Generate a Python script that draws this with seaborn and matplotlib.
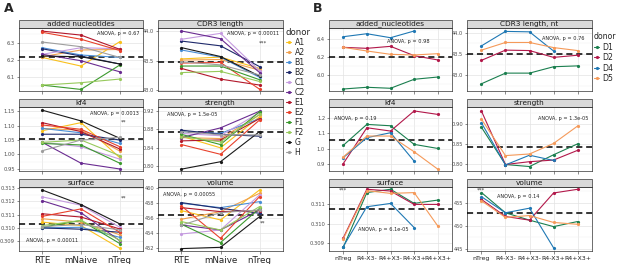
import numpy as np
import pandas as pd
import matplotlib
matplotlib.use("Agg")
import matplotlib.pyplot as plt
import seaborn as sns
from matplotlib.patches import Rectangle
from matplotlib.lines import Line2D
from matplotlib.ticker import AutoMinorLocator

# ---------------- Panel A data ----------------
cells_A = ["RTE", "mNaive", "nTreg"]
donors_A = ["A1", "A2", "B1", "B2", "C1", "C2", "E1", "E2", "F1", "F2", "G", "H"]
colors_A = ["#F9C01C", "#F0A04E", "#4A8FD6", "#1F2A6B", "#C59BE0", "#6A2C91",
            "#B2182B", "#E8412C", "#3C9A2E", "#97C95C", "#1A1A1A", "#9E9E9E"]

A_added = {"A1": [6.215, 6.165, 6.306], "A2": [6.219, 6.258, 6.261], "B1": [6.271, 6.229, 6.215],
           "B2": [6.265, 6.223, 6.177], "C1": [6.233, 6.271, 6.265], "C2": [6.233, 6.196, 6.132],
           "E1": [6.367, 6.344, 6.262], "E2": [6.360, 6.320, 6.255], "F1": [6.055, 6.030, 6.171],
           "F2": [6.055, 6.069, 6.090], "G": [6.223, 6.219, 6.177], "H": [6.304, 6.277, 6.215]}
A_cdr3 = {"A1": [43.53, 43.56, 43.37], "A2": [43.51, 43.52, 43.34], "B1": [43.68, 43.56, 43.22],
          "B2": [43.83, 43.75, 43.40], "C1": [43.86, 43.96, 43.33], "C2": [44.00, 43.87, 43.30],
          "E1": [43.37, 43.19, 43.09], "E2": [43.46, 43.47, 43.02], "F1": [43.41, 43.41, 43.18],
          "F2": [43.30, 43.32, 43.15], "G": [43.72, 43.57, 43.24], "H": [43.48, 43.43, 43.26]}
A_kf4 = {"A1": [1.082, 1.110, 0.989], "A2": [1.090, 1.084, 1.012], "B1": [1.090, 1.075, 1.038],
         "B2": [1.070, 1.070, 1.050], "C1": [1.042, 1.027, 0.984], "C2": [1.042, 0.970, 0.950],
         "E1": [1.110, 1.079, 1.019], "E2": [1.102, 1.087, 1.027], "F1": [1.038, 1.033, 0.970],
         "F2": [1.042, 1.050, 0.996], "G": [1.153, 1.116, 1.056], "H": [1.013, 1.050, 1.059]}
A_strength = {"A1": [0.865, 0.840, 0.907], "A2": [0.862, 0.860, 0.911], "B1": [0.875, 0.871, 0.903],
              "B2": [0.878, 0.869, 0.865], "C1": [0.871, 0.866, 0.916], "C2": [0.862, 0.883, 0.919],
              "E1": [0.855, 0.857, 0.903], "E2": [0.847, 0.826, 0.900], "F1": [0.869, 0.847, 0.918],
              "F2": [0.864, 0.853, 0.912], "G": [0.794, 0.810, 0.875], "H": [0.875, 0.868, 0.868]}
A_surface = {"A1": [0.31042, 0.31016, 0.30843], "A2": [0.31068, 0.31042, 0.30946],
             "B1": [0.30998, 0.31003, 0.30926], "B2": [0.30998, 0.30988, 0.30965],
             "C1": [0.31235, 0.31171, 0.31003], "C2": [0.31205, 0.31114, 0.30900],
             "E1": [0.31106, 0.31081, 0.30990], "E2": [0.31086, 0.31143, 0.30965],
             "F1": [0.31003, 0.31055, 0.30879], "F2": [0.31016, 0.31055, 0.30905],
             "G": [0.31287, 0.31176, 0.31029], "H": [0.31008, 0.31024, 0.30983]}
A_volume = {"A1": [457.02, 455.78, 459.78], "A2": [455.87, 456.89, 459.33], "B1": [458.00, 457.42, 458.22],
            "B2": [458.09, 457.33, 456.67], "C1": [453.91, 454.44, 459.11], "C2": [455.11, 454.44, 457.11],
            "E1": [457.42, 456.89, 457.02], "E2": [457.64, 453.33, 458.89], "F1": [455.20, 452.76, 457.33],
            "F2": [455.56, 454.44, 457.56], "G": [451.96, 452.13, 456.22], "H": [455.07, 456.76, 457.11]}

titles_A = ["added nucleotides", "CDR3 length", "kf4", "strength", "surface", "volume"]
refs_A = [6.215, 43.47, 1.053, 0.874, 0.31029, 456.4]
ylims_A = [(6.021, 6.385), (42.99, 44.05), (0.943, 1.164), (0.790, 0.928), (0.30822, 0.3131), (451.64, 460.17)]
yticks_A = [[6.1, 6.2, 6.3], [43.0, 43.5, 44.0], [0.95, 1.00, 1.05, 1.10, 1.15], [0.80, 0.84, 0.88, 0.92],
            [0.309, 0.310, 0.311, 0.312, 0.313], [452, 454, 456, 458, 460]]
ytlab_A = [["6.1", "6.2", "6.3"], ["43.0", "43.5", "44.0"], ["0.95", "1.00", "1.05", "1.10", "1.15"],
           ["0.80", "0.84", "0.88", "0.92"], ["0.309", "0.310", "0.311", "0.312", "0.313"],
           ["452", "454", "456", "458", "460"]]
anova_A = ["ANOVA, p = 0.67", "ANOVA, p = 0.00011", "ANOVA, p = 0.0013", "ANOVA, p = 1.5e-05",
           "ANOVA, p = 0.00011", "ANOVA, p = 0.00055"]
stars_A = ["", "***", "**", "", "**", "**"]

# ---------------- Panel B data ----------------
cells_B = ["nTreg", "R4-X3-", "R4+X3-", "R4-X3+", "R4+X3+"]
donors_B = ["D1", "D2", "D4", "D5"]
colors_B = ["#1B7F4F", "#B2184A", "#1F78B4", "#F59A5A"]
nan = np.nan
B_added = {"D1": [5.849, 5.868, 5.857, 5.956, 5.981], "D2": [6.308, 6.297, 6.319, 6.216, 6.169],
           "D4": [6.425, 6.458, 6.414, 6.488, nan], "D5": [6.308, 6.268, 6.231, 6.224, 6.238]}
B_cdr3 = {"D1": [42.80, 43.05, 43.05, 43.20, 43.22], "D2": [43.35, 43.59, 43.58, 43.42, 43.47],
          "D4": [43.69, 44.03, 44.02, 43.57, nan], "D5": [43.59, 43.77, 43.77, 43.65, 43.58]}
B_kf4 = {"D1": [1.021, 1.160, 1.151, 1.028, 1.001], "D2": [0.900, 1.138, 1.116, 1.249, 1.226],
         "D4": [0.940, 1.072, 1.105, 0.917, nan], "D5": [0.944, 1.083, 1.083, 0.979, 0.864]}
B_strength = {"D1": [0.891, 0.799, 0.794, 0.823, 0.850], "D2": [0.931, 0.799, 0.806, 0.810, 0.834],
              "D4": [0.902, 0.798, 0.822, 0.809, nan], "D5": [0.911, 0.821, 0.825, 0.851, 0.894]}
B_surface = {"D1": [0.30879, 0.31158, 0.31175, 0.31103, 0.31120],
             "D2": [0.30927, 0.31175, 0.31166, 0.31098, 0.31098],
             "D4": [0.30883, 0.31086, 0.31103, 0.30980, nan],
             "D5": [0.30922, 0.31168, 0.31154, 0.31158, 0.30988]}
B_volume = {"D1": [457.2, 452.8, 451.2, 449.8, 450.9], "D2": [455.7, 452.0, 451.2, 457.1, 457.9],
            "D4": [456.3, 452.8, 453.8, 445.2, nan], "D5": [455.4, 451.8, 452.2, 450.7, 450.3]}

titles_B = ["added_nucleotides", "CDR3 length, nt", "kf4", "strength", "surface", "volume"]
refs_B = [6.205, 43.5, 1.054, 0.842, 0.31073, 452.8]
ylims_B = [(5.827, 6.521), (42.63, 44.11), (0.852, 1.275), (0.783, 0.941), (0.30861, 0.311865), (444.5, 458.4)]
yticks_B = [[6.0, 6.2, 6.4], [43.0, 43.5, 44.0], [0.9, 1.0, 1.1, 1.2], [0.80, 0.85, 0.90],
            [0.309, 0.310, 0.311], [445, 450, 455]]
ytlab_B = [["6.0", "6.2", "6.4"], ["43.0", "43.5", "44.0"], ["0.9", "1.0", "1.1", "1.2"],
           ["0.80", "0.85", "0.90"], ["0.309", "0.310", "0.311"], ["445", "450", "455"]]
anova_B = ["ANOVA, p = 0.98", "ANOVA, p = 0.76", "ANOVA, p = 0.19", "ANOVA, p = 1.3e-05",
           "ANOVA, p = 6.1e-05", "ANOVA, p = 0.14"]
stars_B = ["", "", "", "", "***", "***"]

# ---------------- figure ----------------
sns.set_style("white")
plt.rcParams["font.family"] = ["DejaVu Sans"]
W, H = 617, 264
fig = plt.figure(figsize=(W / 100, H / 100), dpi=100)

rows_px = [(28, 91), (107, 171), (187, 251)]
colsA_px = [(19, 143), (158, 283)]
colsB_px = [(329, 452), (467, 592)]
STRIP = 8


def make_ax(xr, yr):
    x0, x1 = xr
    y0, y1 = yr
    return fig.add_axes([x0 / W, 1 - y1 / H, (x1 - x0) / W, (y1 - y0) / H])


def long_df(d, donors, cells):
    recs = []
    for dn in donors:
        for c, v in zip(cells, d[dn]):
            if not np.isnan(v):
                recs.append((dn, c, v))
    df = pd.DataFrame(recs, columns=["donor", "cell", "value"])
    df["cell"] = pd.Categorical(df["cell"], categories=cells)
    return df


def style_ax(ax, title, ylim, yt, ytl, ref, ncat, cells, bottom, xfs):
    ax.set_xlim(-0.6, ncat - 1 + 0.6)
    ax.set_ylim(*ylim)
    ax.set_yticks(yt)
    ax.set_yticklabels(ytl)
    ax.set_xticks(range(ncat))
    if bottom:
        ax.set_xticklabels(cells, fontsize=xfs, color="#222222")
    else:
        ax.set_xticklabels([])
    ax.yaxis.set_minor_locator(AutoMinorLocator(2))
    ax.grid(True, which="major", color="#E3E3E3", lw=0.5)
    ax.grid(True, which="minor", axis="y", color="#F0F0F0", lw=0.35)
    ax.set_axisbelow(True)
    ax.tick_params(axis="y", which="major", labelsize=3.7, labelcolor="#4D4D4D",
                   length=1.8, width=0.4, color="#333333", pad=1.0, left=True)
    ax.tick_params(axis="x", which="major", length=1.8, width=0.4, color="#333333", pad=1.5, bottom=True)
    ax.tick_params(which="minor", length=0)
    for s in ax.spines.values():
        s.set_color("#333333")
        s.set_linewidth(0.5)
    ax.set_xlabel("")
    ax.set_ylabel("")
    ax.axhline(ref, color="black", ls=(0, (4, 2.5)), lw=1.1, zorder=5)
    h = ax.get_window_extent().height / (fig.dpi / 100)
    sh = STRIP / h
    ax.add_patch(Rectangle((0, 1), 1, sh, transform=ax.transAxes, clip_on=False,
                           facecolor="#D9D9D9", edgecolor="#333333", lw=0.5))
    ax.text(0.5, 1 + sh / 2, title, transform=ax.transAxes, ha="center", va="center",
            fontsize=5.3, color="#1A1A1A")


def draw_panel(datas, donors, colors, cells, cols_px, titles, refs, ylims, yticks, ytlabs,
               anovas, anova_pos, stars, star_pos, xfs):
    for i, d in enumerate(datas):
        r, c = divmod(i, 2)
        ax = make_ax(cols_px[c], rows_px[r])
        df = long_df(d, donors, cells)
        sns.lineplot(data=df, x="cell", y="value", hue="donor", hue_order=donors, palette=colors,
                     marker="o", markersize=2.3, markeredgewidth=0, linewidth=0.8,
                     estimator=None, legend=False, ax=ax, zorder=6)
        style_ax(ax, titles[i], ylims[i], yticks[i], ytlabs[i], refs[i], len(cells), cells,
                 r == 2, xfs)
        ax_, ay, ha = anova_pos[i]
        ax.text(ax_, ay, anovas[i], transform=ax.transAxes, ha=ha, va="center",
                fontsize=3.6, color="#222222", zorder=8)
        if stars[i]:
            sx, sy = star_pos[i]
            ax.text(sx, sy, stars[i], transform=ax.transAxes, ha="center", va="center",
                    fontsize=4, color="#333333", zorder=8)


anova_pos_A = [(0.97, 0.91, "right"), (0.97, 0.91, "right"), (0.97, 0.90, "right"),
               (0.07, 0.88, "left"), (0.06, 0.16, "left"), (0.04, 0.89, "left")]
star_pos_A = [None, (0.84, 0.76), (0.84, 0.77), None, (0.84, 0.82), (0.84, 0.43)]
draw_panel([A_added, A_cdr3, A_kf4, A_strength, A_surface, A_volume], donors_A, colors_A, cells_A,
           colsA_px, titles_A, refs_A, ylims_A, yticks_A, ytlab_A, anova_A, anova_pos_A,
           stars_A, star_pos_A, 6.3)

anova_pos_B = [(0.82, 0.78, "right"), (0.94, 0.84, "right"), (0.04, 0.82, "left"),
               (0.97, 0.82, "right"), (0.44, 0.33, "center"), (0.41, 0.85, "center")]
star_pos_B = [None, None, None, None, (0.11, 0.96), (0.11, 0.96)]
draw_panel([B_added, B_cdr3, B_kf4, B_strength, B_surface, B_volume], donors_B, colors_B, cells_B,
           colsB_px, titles_B, refs_B, ylims_B, yticks_B, ytlab_B, anova_B, anova_pos_B,
           stars_B, star_pos_B, 4.5)

# legends
def add_legend(donors, colors, x, y, spacing, tfs):
    hs = [Line2D([], [], color=c, marker="o", markersize=2.3, markeredgewidth=0, lw=0.8)
          for c in colors]
    leg = fig.legend(hs, donors, loc="upper left", bbox_to_anchor=(x / W, 1 - y / H),
                     frameon=False, title="donor", fontsize=5.6, title_fontsize=tfs,
                     handlelength=0.7, handletextpad=0.4, labelspacing=spacing,
                     borderpad=0, borderaxespad=0, alignment="left")
    return leg

add_legend(donors_A, colors_A, 286, 28, 0.13, 6.2)
add_legend(donors_B, colors_B, 594, 32, 0.2, 5.6)

fig.text(4 / W, 1 - 9 / H, "A", fontsize=9, fontweight="bold", va="center", ha="left")
fig.text(313 / W, 1 - 9 / H, "B", fontsize=9, fontweight="bold", va="center", ha="left")

fig.savefig("out.png", dpi=100)
